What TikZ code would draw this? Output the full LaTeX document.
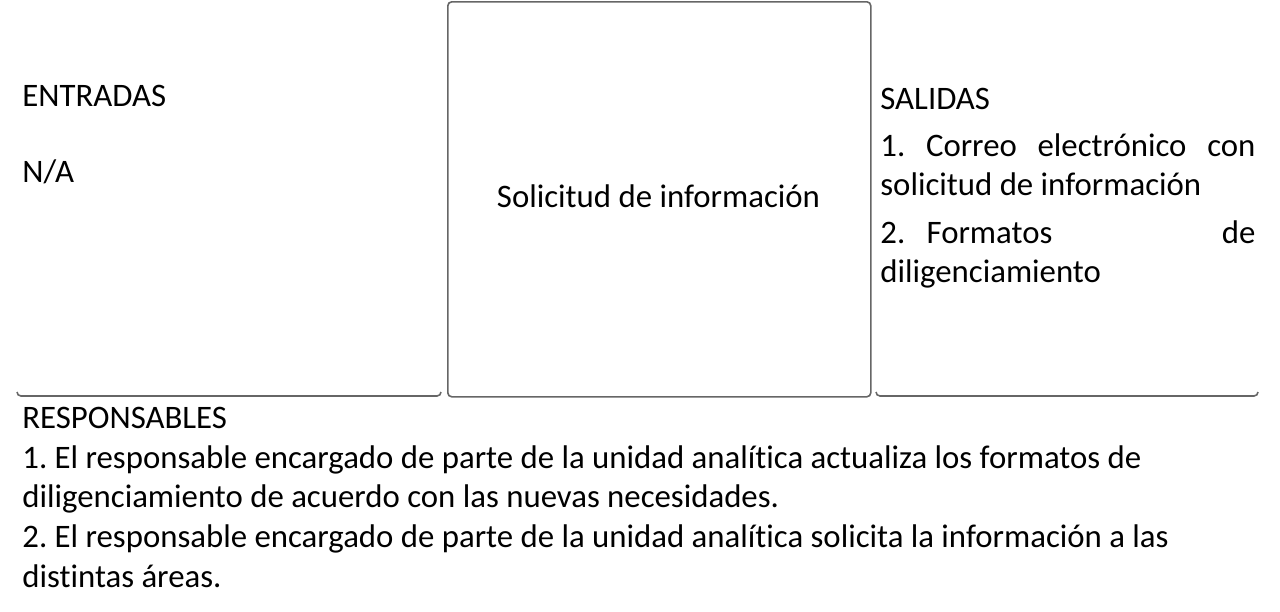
\documentclass[tikz,border=0pt]{standalone}
\usepackage{fontspec}
\setmainfont{Carlito}[Ligatures=NoCommon]
\usetikzlibrary{positioning}
\frenchspacing
\newcommand{\normsp}{\spaceskip=0pt\xspaceskip=0pt\relax}

\tikzset{
  txt/.style={anchor=base west,inner sep=0pt,font=\fontsize{16.4}{19.85}\selectfont},
  frame/.style={draw=black!60,line width=0.8pt,rounded corners=2pt},
}

\begin{document}
\begin{tikzpicture}[x=0.5pt,y=-0.5pt]
\useasboundingbox (0,0) rectangle (1280,611);
% central process box
\node[frame,minimum width=211.5pt,minimum height=197.5pt,anchor=north west] (proc) at (447,1) {};
\node[txt,anchor=base] (proctxt) at (658.5,207) {Solicitud de información};
% bottom rules of the side columns
\draw[frame] (17,392) -- (17,396) -- (441,396) -- (441,392);
\draw[frame] (876,392) -- (876,396) -- (1258,396) -- (1258,392);
% inputs
\node[txt] (ent) at (22,106) {ENTRADAS};
\node[txt] (na) at (22,182) {N/A};
% outputs
\node[txt] (sal) at (880,109) {SALIDAS};
\node[txt,text width=187.5pt,align=left] (out1) at (880,156)
  {\normsp 1.\hfill Correo\hfill electrónico\hfill con\\solicitud de información};
\node[txt,text width=187.5pt,align=left] (out2) at (880,243)
  {\normsp 2.\hspace{0.65em}Formatos\hfill de\\diligenciamiento};
% responsibles
\node[txt] (resp) at (22,428) {RESPONSABLES};
\node[txt,text width=620pt,align=left] (resp1) at (22,468)
  {\normsp 1. El responsable encargado de parte de la unidad analítica actualiza los formatos de\\
   diligenciamiento de acuerdo con las nuevas necesidades.\\
   2. El responsable encargado de parte de la unidad analítica solicita la información a las\\
   distintas áreas.};
\end{tikzpicture}
\end{document}
